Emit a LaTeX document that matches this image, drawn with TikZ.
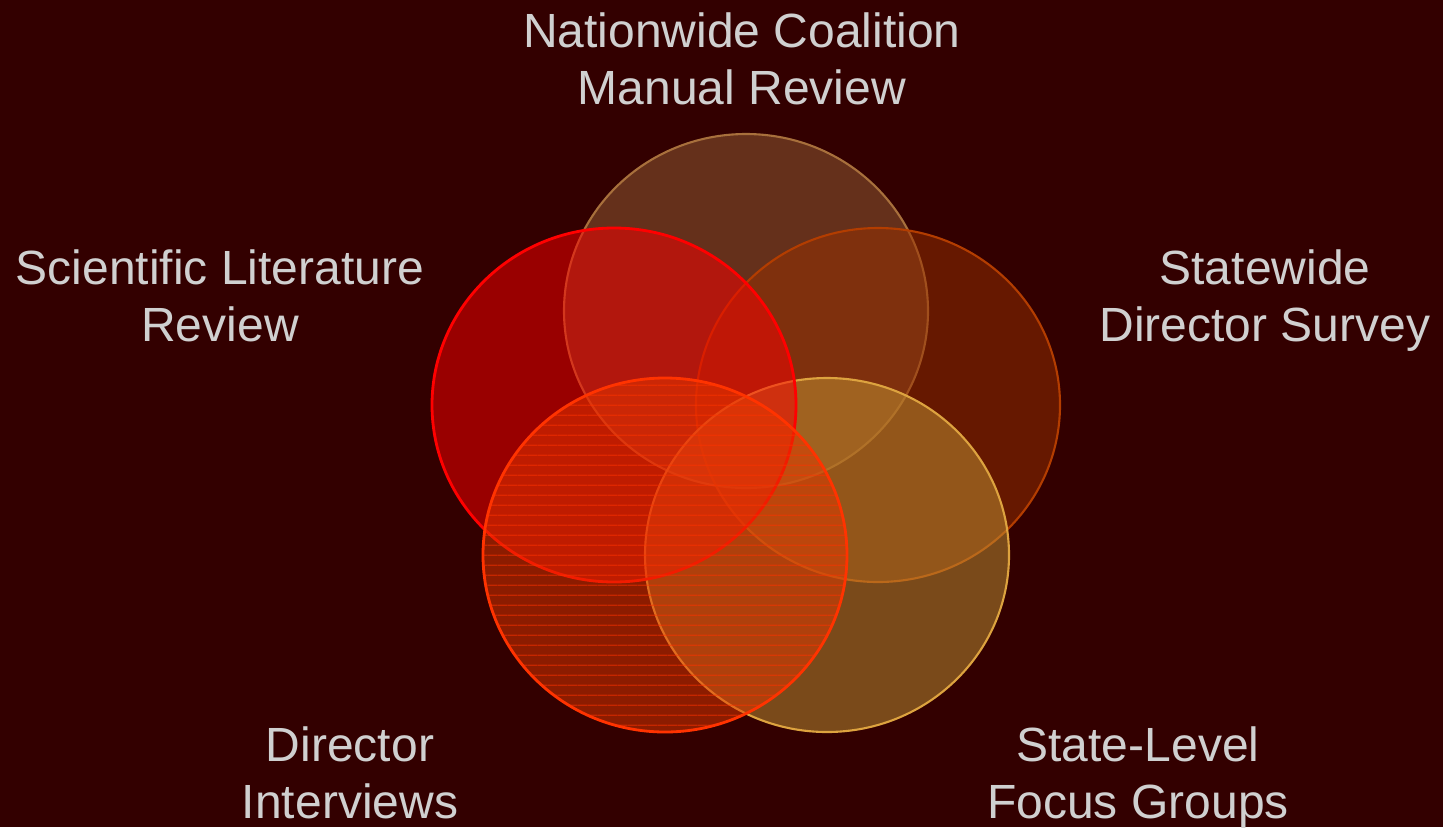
\documentclass[tikz,border=0pt]{standalone}
\usepackage{fontspec}
\setmainfont{Liberation Sans}
\usepackage{xcolor}
\usepackage{tikz}
\usetikzlibrary{patterns.meta}

\definecolor{maroonbg}{HTML}{330000}
\definecolor{coalitionfill}{HTML}{976036}
\definecolor{coalitionedge}{HTML}{A8703C}
\definecolor{litfill}{HTML}{FF0000}
\definecolor{litedge}{HTML}{FF0000}
\definecolor{surveyfill}{HTML}{993000}
\definecolor{surveyedge}{HTML}{B33D00}
\definecolor{focusfill}{HTML}{C19434}
\definecolor{focusedge}{HTML}{DDA33F}
\definecolor{interviewfill}{HTML}{E53800}
\definecolor{interviewedge}{HTML}{FF3300}
\definecolor{labelgrey}{HTML}{D0D0D0}

\begin{document}
\begin{tikzpicture}[
        lbl/.style={text=labelgrey,align=center,font=\fontsize{13.66}{16.2}\selectfont},
        venn/.style={fill opacity=0.5,line width=0.6pt}
    ]
            \useasboundingbox (0,0) rectangle (14.43,8.27);
            \fill[maroonbg] (0,0) rectangle (14.43,8.27);
            \clip (0,0) rectangle (14.43,8.27);

            % five overlapping sets, back to front
            \filldraw[venn,fill=coalitionfill,draw=coalitionedge] (7.46,5.16) ellipse (1.82 and 1.77);
            \filldraw[venn,fill=surveyfill,draw=surveyedge] (8.78,4.22) ellipse (1.82 and 1.77);
            \filldraw[venn,fill=focusfill,draw=focusedge] (8.27,2.72) ellipse (1.82 and 1.77);
            \filldraw[venn,fill=litfill,draw=litedge,line width=0.8pt] (6.14,4.22) ellipse (1.82 and 1.77);

            % striped set
            \fill[venn,fill=interviewfill] (6.65,2.72) ellipse (1.82 and 1.77);
            \fill[fill opacity=0.5,pattern={Lines[distance=0.103cm,angle=0,line width=0.35pt]},pattern color=interviewedge] (6.65,2.72) ellipse (1.82 and 1.77);
            \draw[interviewedge,line width=0.8pt] (6.65,2.72) ellipse (1.82 and 1.77);

            \node[lbl] (coalition) at (7.42,7.685) {Nationwide Coalition\\Manual Review};
            \node[lbl] (literature) at (2.20,5.31) {Scientific Literature\\Review};
            \node[lbl] (survey) at (12.65,5.26) {Statewide\\Director Survey};
            \node[lbl] (interviews) at (3.50,0.545) {Director\\Interviews};
            \node[lbl] (focus) at (11.38,0.4925) {State-Level\\Focus Groups};
        \end{tikzpicture}
\end{document}
